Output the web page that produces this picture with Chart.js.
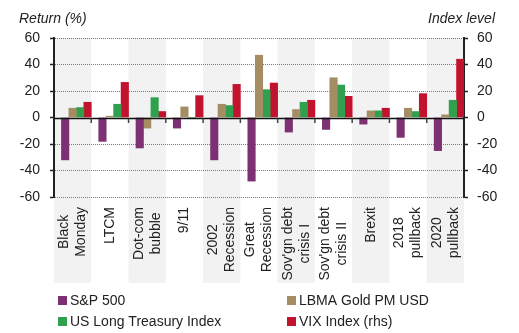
<!DOCTYPE html>
<html>
<head>
<meta charset="utf-8">
<script src="https://cdn.jsdelivr.net/npm/chart.js@4"></script>
<style>
  html, body { margin: 0; padding: 0; background: #fff; }
  #wrap { width: 519px; height: 333px; }
</style>
</head>
<body>
<div id="wrap"><canvas id="grafico" width="519" height="333"></canvas></div>
<script>
// eventos de mercado (cada item = linhas do rótulo)
const eventos = [
  ['Black', 'Monday'], ['LTCM'], ['Dot-com', 'bubble'], ['9/11'],
  ['2002', 'Recession'], ['Great', 'Recession'], ["Sov'gn debt", 'crisis I'],
  ["Sov'gn debt", 'crisis II'], ['Brexit'], ['2018', 'pullback'], ['2020', 'pullback']
];

// retornos (%)
const sp500    = [-32, -18, -23, -8, -32, -48, -11, -9, -5, -15, -25];
const ouro     = [7, 1, -8, 8, 10, 47, 6, 30, 5, 7, 2];
const tesouro  = [7.5, 10, 15, 0, 9, 21, 11.5, 24.5, 5, 4.5, 13];
const vix      = [11.5, 26.5, 4.5, 16.5, 25, 26, 13, 16, 7, 18, 44];

const ticksEixo = [-60, -40, -20, 0, 20, 40, 60];

const fonte = 'Liberation Sans, Arial, sans-serif';
const corTexto = '#222';

// faixas cinza atrás das categorias pares
const faixas = {
  id: 'faixas',
  beforeDraw(chart) {
    const { ctx, chartArea, scales } = chart;
    const x = scales.x;
    const larg = x.getPixelForValue(1) - x.getPixelForValue(0);
    ctx.save();
    ctx.fillStyle = '#f2f2f2';
    for (let i = 0; i < eventos.length; i += 2) {
      const cx = x.getPixelForValue(i);
      ctx.fillRect(cx - larg / 2, chartArea.top, larg, 283 - chartArea.top);
    }
    ctx.restore();
  }
};

// linha do zero com marcas entre categorias
const linhaZero = {
  id: 'linhaZero',
  afterDatasetsDraw(chart) {
    const { ctx, chartArea, scales } = chart;
    const y0 = Math.round(scales.y.getPixelForValue(0)) + 0.5;
    ctx.save();
    ctx.strokeStyle = '#111';
    ctx.lineWidth = 1.5;
    ctx.beginPath();
    ctx.moveTo(chartArea.left, y0);
    ctx.lineTo(chartArea.right, y0);
    ctx.stroke();
    ctx.strokeStyle = '#444';
    for (let i = 0; i < eventos.length - 1; i++) {
      const xb = (scales.x.getPixelForValue(i) + scales.x.getPixelForValue(i + 1)) / 2;
      ctx.beginPath();
      ctx.moveTo(xb, y0);
      ctx.lineTo(xb, y0 + 4.5);
      ctx.stroke();
    }
    ctx.restore();
  }
};

// rótulos verticais, títulos dos eixos e legenda em duas colunas
const textos = {
  id: 'textos',
  afterDraw(chart) {
    const { ctx, chartArea, scales } = chart;
    ctx.save();
    ctx.fillStyle = corTexto;
    ctx.font = '14px ' + fonte;

    // rótulos das categorias
    const topo = chartArea.bottom + 10;
    eventos.forEach((linhas, i) => {
      const cx = scales.x.getPixelForValue(i);
      const maxW = Math.max(...linhas.map(l => ctx.measureText(l).width));
      ctx.save();
      ctx.translate(cx, topo);
      ctx.rotate(-Math.PI / 2);
      ctx.textAlign = 'center';
      ctx.textBaseline = 'middle';
      linhas.forEach((l, j) => {
        ctx.fillText(l, -maxW / 2, (j - (linhas.length - 1) / 2) * 17);
      });
      ctx.restore();
    });

    // títulos dos eixos
    ctx.font = 'italic 14px ' + fonte;
    ctx.textBaseline = 'alphabetic';
    ctx.textAlign = 'left';
    ctx.fillText('Return (%)', 19, 23);
    ctx.textAlign = 'right';
    ctx.fillText('Index level', 495, 23);

    // legenda
    ctx.font = '14px ' + fonte;
    ctx.textAlign = 'left';
    ctx.textBaseline = 'middle';
    const colunas = [58, 287];
    const linhasY = [296, 317];
    chart.data.datasets.filter(d => d.label).forEach((d, k) => {
      const mx = colunas[k % 2];
      const my = linhasY[Math.floor(k / 2)];
      ctx.fillStyle = d.backgroundColor;
      ctx.fillRect(mx, my, 9, 9);
      ctx.fillStyle = corTexto;
      ctx.fillText(d.label, mx + 12, my + 5);
    });
    ctx.restore();
  }
};

const ctx = document.getElementById('grafico').getContext('2d');
new Chart(ctx, {
  type: 'bar',
  data: {
    labels: eventos,
    datasets: [
      { label: '', data: eventos.map(() => null) }, // espaço vazio à esquerda de cada grupo
      { label: 'S&P 500', data: sp500, backgroundColor: '#7d3173', yAxisID: 'y' },
      { label: 'LBMA Gold PM USD', data: ouro, backgroundColor: '#a48d62', yAxisID: 'y' },
      { label: 'US Long Treasury Index', data: tesouro, backgroundColor: '#2fa04e', yAxisID: 'y' },
      { label: 'VIX Index (rhs)', data: vix, backgroundColor: '#c1132d', yAxisID: 'y1' }
    ]
  },
  options: {
    responsive: false,
    animation: false,
    devicePixelRatio: 1,
    categoryPercentage: 1,
    barPercentage: 1,
    layout: { padding: { top: 38, left: 0, right: 0, bottom: 0 } },
    plugins: {
      legend: { display: false },
      tooltip: { enabled: false }
    },
    scales: {
      x: {
        grid: { display: false },
        border: { display: false },
        ticks: { display: false },
        afterFit(s) { s.height = 136; }
      },
      y: {
        position: 'left',
        min: -60,
        max: 60,
        afterBuildTicks(s) { s.ticks = ticksEixo.map(v => ({ value: v })); },
        ticks: { color: corTexto, font: { family: fonte, size: 14 }, padding: 10 },
        grid: {
          color: c => (c.tick && c.tick.value === 0 ? 'rgba(0,0,0,0)' : '#7a7a7a'),
          lineWidth: 1,
          tickLength: 4,
          tickColor: corTexto,
          tickWidth: 1.5
        },
        border: { display: true, color: corTexto, width: 2, dash: [1, 1] },
        afterFit(s) { s.width = 54; }
      },
      y1: {
        position: 'right',
        min: -60,
        max: 60,
        afterBuildTicks(s) { s.ticks = ticksEixo.map(v => ({ value: v })); },
        ticks: { color: corTexto, font: { family: fonte, size: 14 }, padding: 9 },
        grid: { drawOnChartArea: false, tickLength: 4, tickColor: corTexto, tickWidth: 1.5 },
        border: { display: true, color: corTexto, width: 2 },
        afterFit(s) { s.width = 55; }
      }
    }
  },
  plugins: [faixas, linhaZero, textos]
});
</script>
</body>
</html>
